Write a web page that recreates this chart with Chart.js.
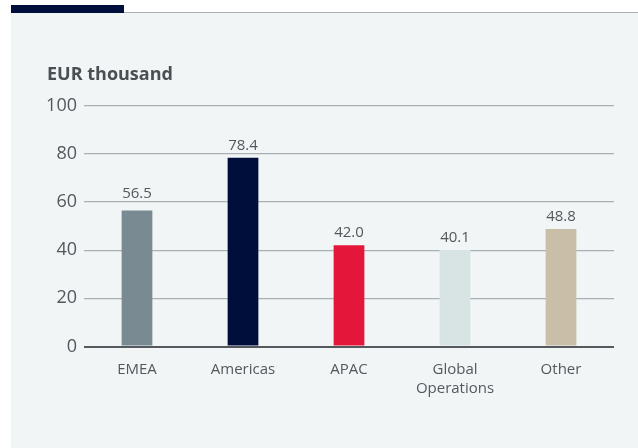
<!DOCTYPE html>
<html>
<head>
<meta charset="utf-8">
<title>EUR thousand</title>
<script src="https://cdn.jsdelivr.net/npm/chart.js@4/dist/chart.umd.min.js"></script>
<style>
   html, body {
      margin: 0;
      padding: 0;
      background: #ffffff;
   }
   #page {
      position: relative;
      width: 638px;
      height: 448px;
      overflow: hidden;
   }
   #rule {
      position: absolute;
      left: 124px;
      top: 12px;
      width: 514px;
      height: 1px;
      background: #a7afb3;
   }
   #accent {
      position: absolute;
      left: 11px;
      top: 5px;
      width: 113px;
      height: 8px;
      background: #000e3c;
   }
   #panel {
      position: absolute;
      left: 11px;
      top: 13px;
      right: 0;
      bottom: 0;
      background: #f1f5f6;
   }
   #chart {
      position: absolute;
      left: 0;
      top: 0;
   }
</style>
</head>
<body>
<div id="page">
   <div id="rule"></div>
   <div id="accent"></div>
   <div id="panel"></div>
   <canvas id="chart" width="638" height="448"></canvas>
</div>
<script>
'use strict';

const categories = ['EMEA', 'Americas', 'APAC', ['Global', 'Operations'], 'Other'];
const values = [56.5, 78.4, 42.0, 40.1, 48.8];
const barColors = ['#798a92', '#000e3c', '#e4173a', '#d8e3e3', '#c9bfa9'];
const yTicks = [0, 20, 40, 60, 80, 100];

const fontFamily = '"Open Sans", "Noto Sans", sans-serif';
const textColor = '#53585d';

// value labels above each bar, nudged up when a grid line would cut through them
const barValueLabels = {
   id: 'barValueLabels',
   afterDatasetsDraw(chart) {
      const ctx = chart.ctx;
      const meta = chart.getDatasetMeta(0);
      const yScale = chart.scales.y;
      const gridY = yTicks.map(function (v) { return yScale.getPixelForValue(v); });
      ctx.save();
      ctx.font = '15px ' + fontFamily;
      ctx.fillStyle = textColor;
      ctx.textAlign = 'center';
      ctx.textBaseline = 'alphabetic';
      meta.data.forEach(function (bar, i) {
         let base = bar.y - 8;
         gridY.forEach(function (gy) {
            if (gy > base - 13 && gy < base + 3) {
               base = gy - 4;
            }
         });
         ctx.fillText(values[i].toFixed(1), bar.x, base);
      });
      ctx.restore();
   }
};

function initChart(canvas) {
   return new Chart(canvas, {
      type: 'bar',
      data: {
         labels: categories,
         datasets: [{
            data: values,
            backgroundColor: barColors,
            borderWidth: 0,
            categoryPercentage: 1,
            barPercentage: 0.29
         }]
      },
      options: {
         responsive: false,
         animation: false,
         layout: {
            padding: { left: 47, right: 24, top: 64, bottom: 44 }
         },
         scales: {
            x: {
               grid: { display: false },
               border: { display: false },
               ticks: {
                  color: textColor,
                  font: { family: fontFamily, size: 15, lineHeight: 1.25 },
                  padding: 6,
                  maxRotation: 0,
                  autoSkip: false
               }
            },
            y: {
               min: 0,
               max: 100,
               afterBuildTicks: function (axis) {
                  axis.ticks = yTicks.map(function (v) { return { value: v }; });
               },
               afterFit: function (axis) {
                  axis.width = 37;
               },
               border: { display: false },
               grid: {
                  drawTicks: false,
                  color: function (c) { return c.tick && c.tick.value === 0 ? '#55595d' : '#a9b1b5'; },
                  lineWidth: function (c) { return c.tick && c.tick.value === 0 ? 2 : 1.2; }
               },
               ticks: {
                  color: textColor,
                  font: { family: fontFamily, size: 18 },
                  padding: 7
               }
            }
         },
         plugins: {
            legend: { display: false },
            tooltip: { enabled: false },
            title: {
               display: true,
               text: 'EUR thousand',
               align: 'start',
               color: '#4a4f54',
               font: { family: fontFamily, size: 18, weight: 'bold', lineHeight: 1.2 },
               padding: { top: 0, bottom: 20 }
            }
         }
      },
      plugins: [barValueLabels]
   });
}

initChart(document.getElementById('chart'));
</script>
</body>
</html>
